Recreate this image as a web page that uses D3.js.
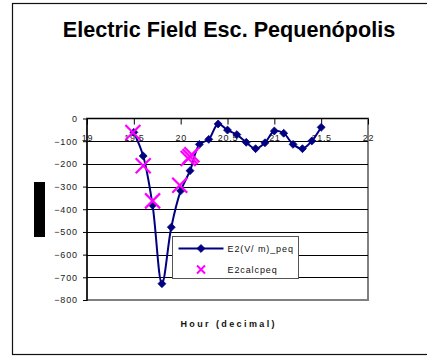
<!DOCTYPE html>
<html>
<head>
<meta charset="utf-8">
<script src="https://cdn.jsdelivr.net/npm/d3@7"></script>
<style>
  body { margin: 0; background: #fff; }
  svg { display: block; }
  text { font-family: "Liberation Sans", Arial, Helvetica, sans-serif; }
</style>
</head>
<body>
<svg id="chart" width="427" height="356"></svg>
<script>
// Measured field, one reading every 0.1 h
const hours = [19.5, 19.6, 19.7, 19.8, 19.9, 20.0, 20.1, 20.2, 20.3, 20.4,
               20.5, 20.6, 20.7, 20.8, 20.9, 21.0, 21.1, 21.2, 21.3, 21.4, 21.5];
const measured = [-61, -165, -382, -728, -479, -319, -230, -114, -92, -24,
                  -51, -71, -105, -133, -107, -55, -65, -114, -133, -99, -39];

// Calculated field
const calcHours = [19.49, 19.6, 19.7, 19.99, 20.08, 20.1, 20.12];
const calcValues = [-62, -208, -363, -294, -176, -168, -160];

const xTicks = [19, 19.5, 20, 20.5, 21, 21.5, 22];
const yTicks = [0, -100, -200, -300, -400, -500, -600, -700, -800];
const seriesNames = ["E2(V/ m)_peq", "E2calcpeq"];
const chartTitle = "Electric Field Esc. Pequenópolis";
const xTitle = "Hour (decimal)";

const NAVY = "#000080", MAGENTA = "#ff00ff";

const svg = d3.select("#chart");

// outer chart frame
svg.append("rect")
  .attr("x", 12.5).attr("y", 3.5)
  .attr("width", 500).attr("height", 351)
  .attr("fill", "#fff").attr("stroke", "#111").attr("stroke-width", 1.2);

const plot = { left: 87, right: 368, top: 118.5, bottom: 300 };
const x = d3.scaleLinear().domain([19, 22]).range([plot.left, plot.right]);
const y = d3.scaleLinear().domain([-800, 0]).range([plot.bottom, plot.top]);

// plot area border (grey)
svg.append("rect")
  .attr("x", plot.left).attr("y", plot.top)
  .attr("width", plot.right - plot.left).attr("height", plot.bottom - plot.top)
  .attr("fill", "#fff").attr("stroke", "#808080").attr("stroke-width", 2);

// horizontal gridlines
svg.append("g")
  .selectAll("line")
  .data(yTicks.filter(v => v !== 0 && v !== -800))
  .join("line")
  .attr("x1", plot.left).attr("x2", plot.right)
  .attr("y1", d => Math.round(y(d)) + 0.5).attr("y2", d => Math.round(y(d)) + 0.5)
  .attr("stroke", "#000").attr("stroke-width", 1);

// y axis
const yAxis = svg.append("g")
  .attr("transform", `translate(${plot.left},0)`)
  .call(d3.axisLeft(y).tickValues(yTicks).tickSize(4).tickPadding(5).tickFormat(d3.format("d")));
yAxis.select(".domain").remove();
yAxis.selectAll("line").attr("stroke", "#000");
yAxis.selectAll("text")
  .attr("font-size", 9).attr("fill", "#222")
  .attr("letter-spacing", 0.9)
  .attr("font-family", "'Liberation Sans', Arial, sans-serif");

// x axis sitting on the zero line, labels hanging below it
const xAxis = svg.append("g")
  .attr("transform", `translate(0,${plot.top})`)
  .call(d3.axisBottom(x).tickValues(xTicks).tickSize(6).tickPadding(10).tickFormat(d => String(d)));
xAxis.select(".domain").remove();
xAxis.selectAll("line").attr("stroke", "#000");
xAxis.selectAll("text")
  .attr("font-size", 9).attr("fill", "#222")
  .attr("letter-spacing", 0.7)
  .attr("font-family", "'Liberation Sans', Arial, sans-serif");

// axis lines
svg.append("line")
  .attr("x1", plot.left).attr("x2", plot.right)
  .attr("y1", y(0)).attr("y2", y(0))
  .attr("stroke", "#000").attr("stroke-width", 1.2);
svg.append("line")
  .attr("x1", plot.left).attr("x2", plot.left)
  .attr("y1", plot.top).attr("y2", plot.bottom + 1)
  .attr("stroke", "#000").attr("stroke-width", 1.4);

// measured series: smoothed line with diamond markers
const line = d3.line()
  .x(d => x(d[0])).y(d => y(d[1]))
  .curve(d3.curveCatmullRom.alpha(0.5));
const measuredPts = hours.map((h, i) => [h, measured[i]]);
svg.append("path")
  .datum(measuredPts)
  .attr("d", line)
  .attr("fill", "none").attr("stroke", NAVY).attr("stroke-width", 2);

const diamond = d3.symbol().type(d3.symbolDiamond2).size(40);
svg.append("g")
  .selectAll("path")
  .data(measuredPts)
  .join("path")
  .attr("transform", d => `translate(${x(d[0])},${y(d[1])})`)
  .attr("d", diamond)
  .attr("fill", NAVY).attr("stroke", NAVY).attr("stroke-width", 0.8);

// calculated series: X markers
const cross = (s) => `M${-s},${-s}L${s},${s}M${-s},${s}L${s},${-s}`;
svg.append("g")
  .selectAll("path")
  .data(calcHours.map((h, i) => [h, calcValues[i]]))
  .join("path")
  .attr("transform", d => `translate(${x(d[0])},${y(d[1])})`)
  .attr("d", cross(7.5))
  .attr("fill", "none").attr("stroke", MAGENTA).attr("stroke-width", 2.2);

// y axis title block
svg.append("rect")
  .attr("x", 34).attr("y", 182)
  .attr("width", 11).attr("height", 55)
  .attr("fill", "#000");

// legend
const lg = svg.append("g").attr("transform", "translate(172.5,236.5)");
lg.append("rect")
  .attr("width", 126).attr("height", 42)
  .attr("fill", "#fff").attr("stroke", "#555").attr("stroke-width", 1);
lg.append("line")
  .attr("x1", 6).attr("x2", 51).attr("y1", 12).attr("y2", 12)
  .attr("stroke", NAVY).attr("stroke-width", 2);
lg.append("path")
  .attr("transform", "translate(28.5,12)")
  .attr("d", diamond)
  .attr("fill", NAVY).attr("stroke", NAVY).attr("stroke-width", 0.8);
lg.append("path")
  .attr("transform", "translate(28.5,33)")
  .attr("d", cross(4))
  .attr("fill", "none").attr("stroke", MAGENTA).attr("stroke-width", 2);
lg.selectAll("text.item")
  .data(seriesNames)
  .join("text")
  .attr("class", "item")
  .attr("x", 55).attr("y", (d, i) => 15.5 + i * 21)
  .attr("font-size", 9).attr("letter-spacing", 0.9).attr("fill", "#111")
  .text(d => d);

// title
svg.append("text")
  .attr("x", 229).attr("y", 36.5)
  .attr("text-anchor", "middle")
  .attr("font-size", 21.6).attr("font-weight", "bold").attr("fill", "#000")
  .text(chartTitle);

// x axis title
svg.append("text")
  .attr("x", (plot.left + plot.right) / 2 + 1.2).attr("y", 326.5)
  .attr("text-anchor", "middle")
  .attr("font-size", 9).attr("font-weight", "bold").attr("letter-spacing", 2.4)
  .attr("fill", "#111")
  .text(xTitle);
</script>
</body>
</html>
